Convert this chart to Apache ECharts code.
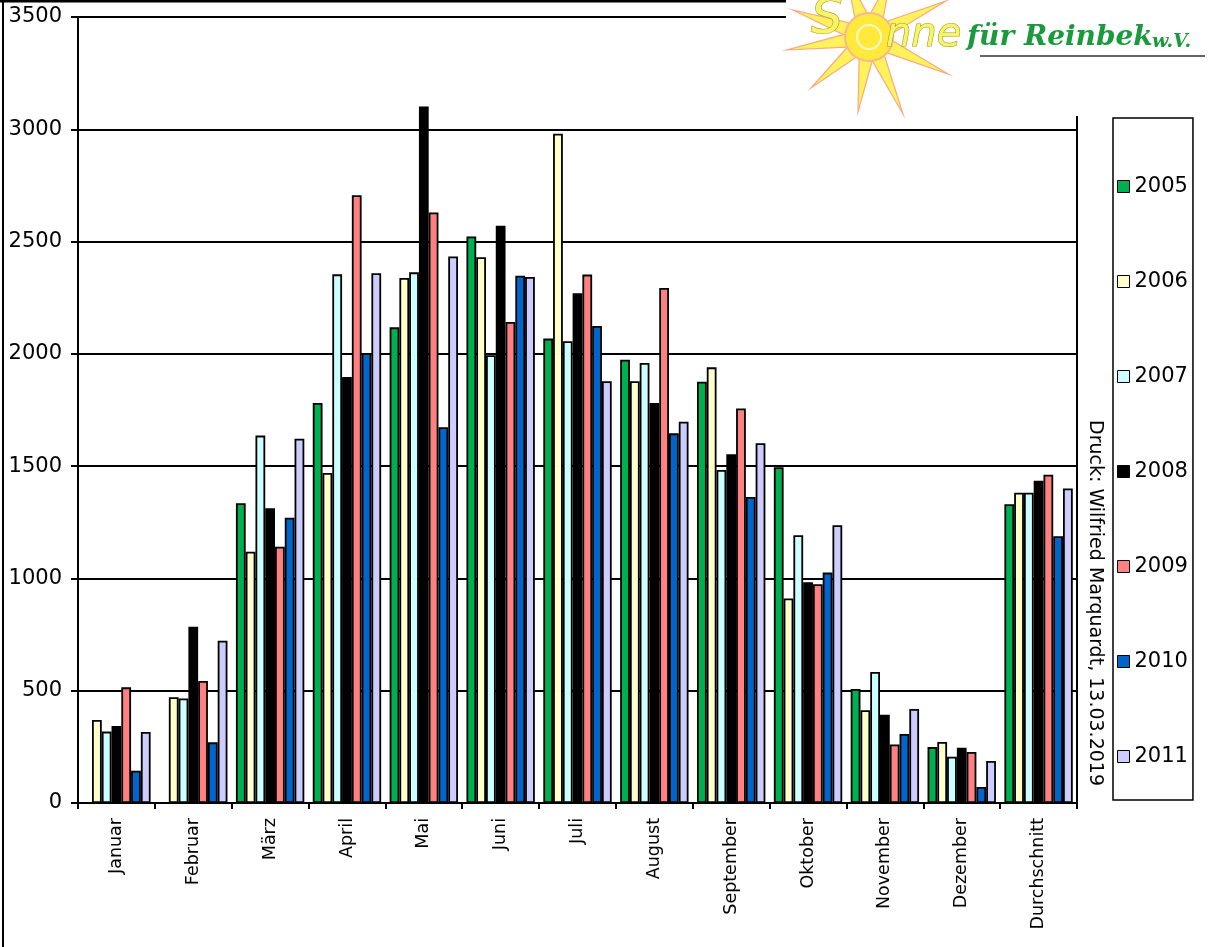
<!DOCTYPE html>
<html>
<head>
<meta charset="utf-8">
<script src="https://cdn.jsdelivr.net/npm/echarts@6/dist/echarts.min.js"></script>
<style>
  html, body { margin: 0; padding: 0; background: #fff; }
  #chart { width: 1212px; height: 947px; }
</style>
</head>
<body>
<div id="chart"></div>
<script>
// Sonnenstunden / Ertrag je Monat, 2005-2011
var months = ['Januar', 'Februar', 'März', 'April', 'Mai', 'Juni', 'Juli',
  'August', 'September', 'Oktober', 'November', 'Dezember', 'Durchschnitt'];
var years = ['2005', '2006', '2007', '2008', '2009', '2010', '2011'];
var yearColors = ['#00b050', '#ffffcc', '#ccffff', '#000000', '#ff8080', '#0066cc', '#ccccff'];
var yTicks = [0, 500, 1000, 1500, 2000, 2500, 3000, 3500];

var v2005 = [null, null, 1335, 1781, 2118, 2523, 2068, 1974, 1876, 1495, 508, 249, 1330];
var v2006 = [370, 471, 1119, 1470, 2338, 2430, 2980, 1878, 1940, 911, 413, 272, 1382];
var v2007 = [318, 465, 1636, 2354, 2363, 1994, 2056, 1959, 1483, 1192, 583, 206, 1382];
var v2008 = [343, 785, 1312, 1897, 3101, 2571, 2270, 1781, 1553, 983, 393, 246, 1435];
var v2009 = [515, 543, 1141, 2706, 2630, 2142, 2353, 2293, 1757, 974, 261, 227, 1462];
var v2010 = [144, 270, 1270, 2003, 1673, 2348, 2124, 1646, 1363, 1026, 307, 71, 1188];
var v2011 = [316, 723, 1622, 2359, 2434, 2342, 1878, 1698, 1602, 1237, 419, 187, 1401];

var seriesValues = [v2005, v2006, v2007, v2008, v2009, v2010, v2011];

var series = years.map(function (y, i) {
  return {
    name: y,
    type: 'bar',
    data: seriesValues[i],
    barGap: '0%',
    barCategoryGap: '11%',
    itemStyle: { color: yearColors[i], borderColor: '#000', borderWidth: 1.8 }
  };
});

// Logo: sun with rays (tips relative to the sun centre)
var sunX = 869, sunY = 37;
var rayTips = [[-82, 13], [-76, -27], [-58, 51], [-11, 75], [34, 77], [79, 37], [77, -36], [-22, -60], [22, -60]];
var logo = [{ type: 'rect', z: 100, shape: { x: 786, y: 0, width: 426, height: 116 }, style: { fill: '#fff' } }];
rayTips.forEach(function (t) {
  var a = Math.atan2(t[1], t[0]), w = 0.28, r0 = 24;
  logo.push({
    type: 'polygon', z: 101,
    shape: { points: [
      [sunX + r0 * Math.cos(a - w), sunY + r0 * Math.sin(a - w)],
      [sunX + t[0], sunY + t[1]],
      [sunX + r0 * Math.cos(a + w), sunY + r0 * Math.sin(a + w)]
    ] },
    style: { fill: '#fff25a', stroke: '#f7a985', lineWidth: 1.2 }
  });
});
logo.push(
  { type: 'circle', z: 102, shape: { cx: sunX, cy: sunY, r: 24 }, style: { fill: '#ffe93a', stroke: '#f8b890', lineWidth: 2 } },
  { type: 'circle', z: 102, shape: { cx: sunX, cy: sunY, r: 12 }, style: { fill: 'none', stroke: '#fff8c8', lineWidth: 2 } },
  {
    type: 'text', z: 103, x: 811, y: 20,
    style: {
      text: 'S', fontSize: 50, fontStyle: 'italic', fontFamily: 'DejaVu Sans',
      fill: '#f6f46a', stroke: '#a89a20', lineWidth: 1.2, verticalAlign: 'middle'
    }
  },
  {
    type: 'text', z: 103, x: 886, y: 36,
    style: {
      text: 'nne', fontSize: 40, fontStyle: 'italic', fontFamily: 'DejaVu Sans',
      fill: '#f6f46a', stroke: '#a89a20', lineWidth: 1.2, verticalAlign: 'middle'
    }
  },
  {
    type: 'text', z: 103, x: 967, y: 38,
    style: {
      text: 'für Reinbek', fontSize: 28, fontStyle: 'italic', fontWeight: 'bold',
      fontFamily: 'DejaVu Serif', fill: '#1a9a3c', verticalAlign: 'middle'
    }
  },
  {
    type: 'text', z: 103, x: 1152, y: 42,
    style: {
      text: 'w.V.', fontSize: 19, fontStyle: 'italic', fontWeight: 'bold',
      fontFamily: 'DejaVu Serif', fill: '#1a9a3c', verticalAlign: 'middle'
    }
  },
  { type: 'line', z: 103, shape: { x1: 980, y1: 56, x2: 1205, y2: 56 }, style: { stroke: '#333', lineWidth: 1.5 } }
);

var option = {
  backgroundColor: '#fff',
  animation: false,
  textStyle: { fontFamily: 'DejaVu Sans' },
  grid: {
    left: 78, right: 135, top: 17, bottom: 144,
    show: true, borderColor: '#000', borderWidth: 2
  },
  legend: {
    orient: 'vertical',
    left: 1113, top: 118,
    padding: [58, 5, 33, 4],
    itemGap: 74,
    itemWidth: 12, itemHeight: 12,
    icon: 'rect',
    borderColor: '#000', borderWidth: 1.5,
    itemStyle: { borderColor: '#000', borderWidth: 1 },
    textStyle: { fontSize: 21, color: '#000', fontFamily: 'DejaVu Sans' },
    data: years
  },
  xAxis: {
    type: 'category',
    data: months,
    axisLine: { lineStyle: { color: '#000', width: 2 } },
    axisTick: { show: true, length: 6, lineStyle: { color: '#000', width: 2 } },
    axisLabel: { rotate: 90, fontSize: 17.5, color: '#000', margin: 15, interval: 0 }
  },
  yAxis: {
    type: 'value',
    min: yTicks[0], max: yTicks[yTicks.length - 1], interval: 500,
    axisLine: { show: true, lineStyle: { color: '#000', width: 2 } },
    axisTick: { show: true, length: 7, lineStyle: { color: '#000', width: 2 } },
    splitLine: { lineStyle: { color: '#000', width: 2 } },
    axisLabel: {
      fontSize: 21, color: '#000', margin: 16,
      formatter: function (v) { return String(v); }
    }
  },
  graphic: [
    // outer frame (top and left)
    { type: 'line', shape: { x1: 0, y1: 1, x2: 786, y2: 1 }, style: { stroke: '#000', lineWidth: 3 }, z: 50 },
    { type: 'line', shape: { x1: 3, y1: 0, x2: 3, y2: 947 }, style: { stroke: '#000', lineWidth: 2 }, z: 50 },
    // footer note
    {
      type: 'text', x: 1095, y: 603, rotation: -Math.PI / 2, z: 50,
      style: {
        text: 'Druck: Wilfried Marquardt, 13.03.2019',
        fontSize: 19, fontFamily: 'DejaVu Sans', fill: '#000',
        align: 'center', verticalAlign: 'middle'
      }
    }
  ].concat(logo),
  series: series
};

var myChart = echarts.init(document.getElementById('chart'));
option && myChart.setOption(option);
</script>
</body>
</html>
